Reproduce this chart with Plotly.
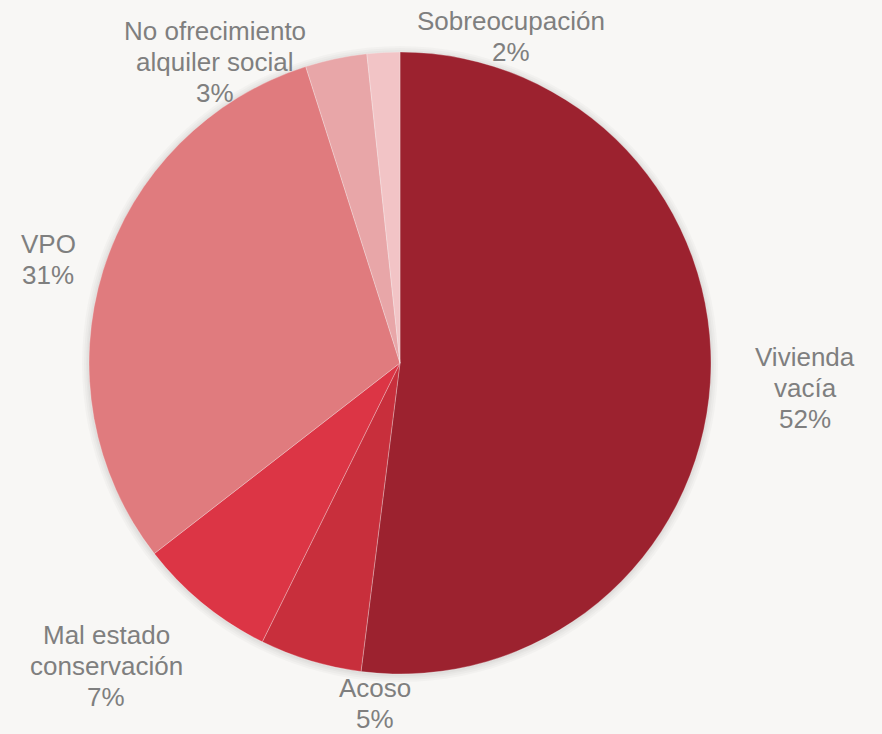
import plotly.graph_objects as go

labels = ["Vivienda vacía", "Acoso", "Mal estado conservación", "VPO",
          "No ofrecimiento alquiler social", "Sobreocupación"]
label_lines = [["Vivienda", "vacía"], ["Acoso"], ["Mal estado", "conservación"], ["VPO"],
               ["No ofrecimiento", "alquiler social"], ["Sobreocupación"]]
values = [52.0, 5.3, 7.2, 30.6, 3.2, 1.7]
colors = ["#9c222f", "#c82f3c", "#dc3545", "#e07b7e", "#e8a6a8", "#f2c4c6"]

# label block centres in pixels (layout)
label_pos = [(805, 388), (375, 703), (106, 666), (48, 259), (215, 62), (511, 37)]

W, H = 882, 734
CX, CY, R = 400, 363, 311
LINE = 31


def dom(r, dy=0):
    return dict(x=[(CX - r) / W, (CX + r) / W],
                y=[1 - (CY + dy + r) / H, 1 - (CY + dy - r) / H])


fig = go.Figure()
# soft shadow behind the pie
for extra in (7, 5, 3, 1.5):
    fig.add_trace(go.Pie(values=[1], labels=["shadow"], sort=False, textinfo="none",
                         hoverinfo="skip", showlegend=False,
                         marker=dict(colors=["rgba(0,0,0,0.025)"], line=dict(width=0)),
                         domain=dom(R + extra, 1)))

fig.add_trace(go.Pie(
    labels=labels, values=values, sort=False, direction="clockwise", rotation=0,
    marker=dict(colors=colors, line=dict(color="rgba(255,255,255,0.35)", width=0.8)),
    textinfo="none", showlegend=False, hoverinfo="label+percent",
    domain=dom(R),
))

total = sum(values)
for lines, v, (px, py) in zip(label_lines, values, label_pos):
    all_lines = lines + [f"{round(100 * v / total)}%"]
    n = len(all_lines)
    for i, t in enumerate(all_lines):
        y = py + (i - (n - 1) / 2) * LINE
        fig.add_annotation(x=px / W, y=1 - y / H, xref="paper", yref="paper",
                           text=t, showarrow=False, xanchor="center", yanchor="middle",
                           font=dict(family="Liberation Sans, Arial", size=26, color="#7f7f7f"))

fig.update_layout(
    width=W, height=H,
    margin=dict(l=0, r=0, t=0, b=0),
    paper_bgcolor="#f8f7f5", plot_bgcolor="#f8f7f5",
)
fig.write_html("out.html")
